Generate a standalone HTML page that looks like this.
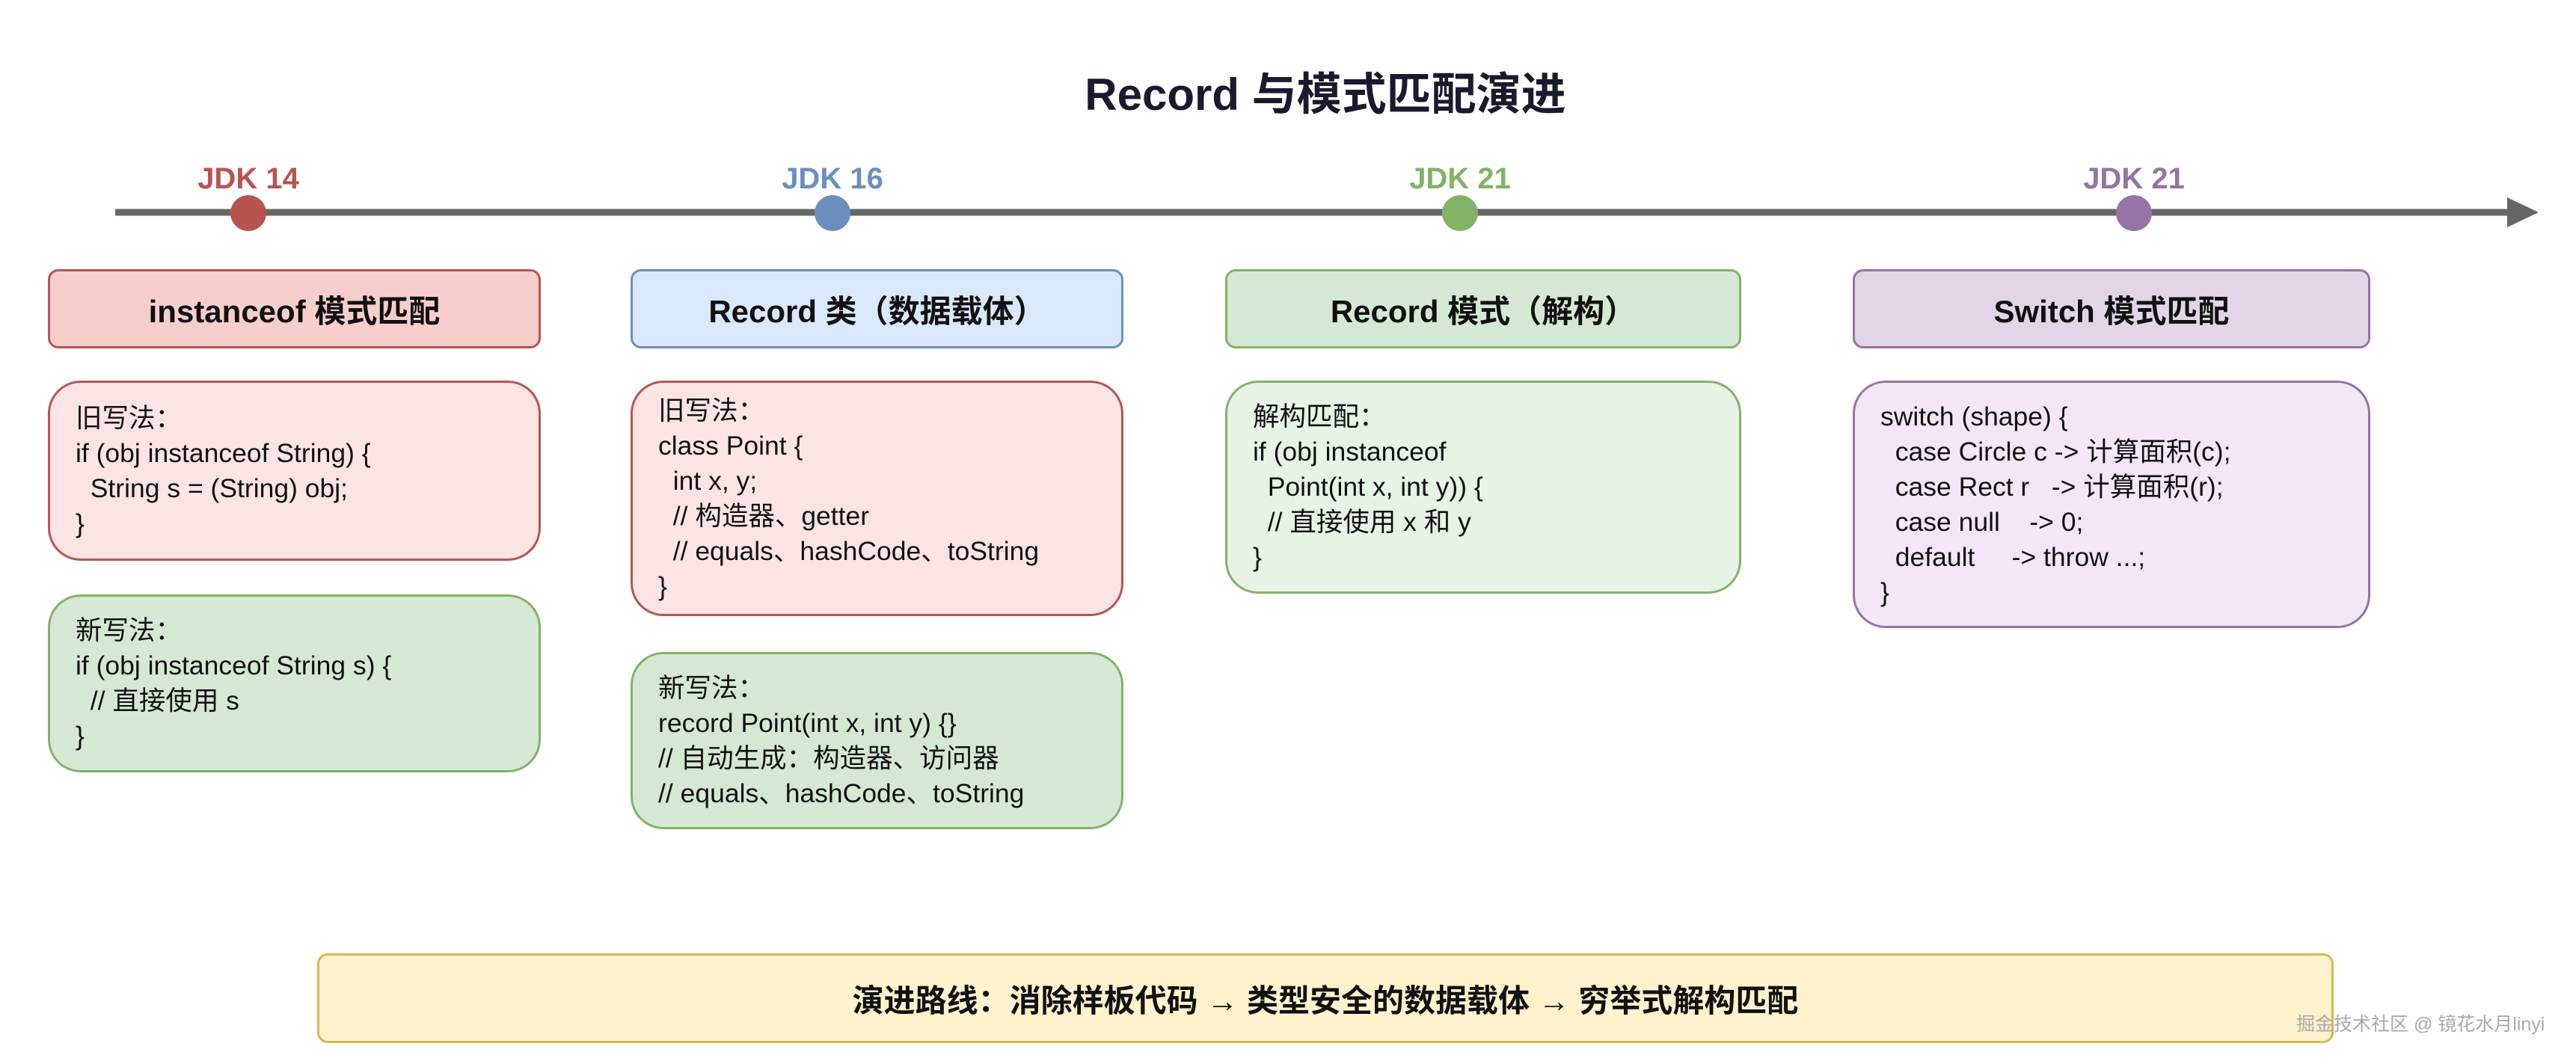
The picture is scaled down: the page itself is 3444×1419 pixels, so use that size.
<!DOCTYPE html>
<html><head><meta charset="utf-8"><style>
*{margin:0;padding:0;box-sizing:border-box}
body{width:3444px;height:1419px;background:#fff;position:relative;overflow:hidden;font-family:"Liberation Sans","Noto Sans CJK SC",sans-serif}
.a{position:absolute}
.t{font-weight:bold;color:#1a1a2e;font-size:60px;width:3444px;text-align:center;top:78px;left:50px}
.lbl{font-weight:bold;font-size:40px;width:300px;text-align:center;top:217px}
.h{border:3px solid;border-radius:14px;display:flex;align-items:center;justify-content:center;font-weight:bold;font-size:42px;color:#111;top:360px;height:106px}
.c{border:3px solid;border-radius:44px;display:flex;flex-direction:column;justify-content:center;padding-left:34px;font-size:35.5px;line-height:47px;color:#111;white-space:pre}
</style></head><body>
<div class="a t">Record 与模式匹配演进</div>
<svg class="a" style="left:0;top:0" width="3444" height="330">
<line x1="154" y1="284" x2="3360" y2="284" stroke="#666" stroke-width="9"/>
<polygon points="3352,264 3394,284 3352,304" fill="#666"/>
<circle cx="332" cy="285" r="24" fill="#b85450"/>
<circle cx="1113" cy="285" r="24" fill="#6c8ebf"/>
<circle cx="1952" cy="285" r="24" fill="#82b366"/>
<circle cx="2853" cy="285" r="24" fill="#9673a6"/>
</svg>
<div class="a lbl" style="left:182px;color:#b85450">JDK 14</div>
<div class="a lbl" style="left:963px;color:#6c8ebf">JDK 16</div>
<div class="a lbl" style="left:1802px;color:#82b366">JDK 21</div>
<div class="a lbl" style="left:2703px;color:#9673a6">JDK 21</div>

<div class="a h" style="left:64px;width:659px;background:#f8cecc;border-color:#b85450">instanceof 模式匹配</div>
<div class="a h" style="left:843px;width:659px;background:#dae8fc;border-color:#6c8ebf">Record 类（数据载体）</div>
<div class="a h" style="left:1638px;width:690px;background:#d5e8d4;border-color:#82b366">Record 模式（解构）</div>
<div class="a h" style="left:2477px;width:692px;background:#e1d5e7;border-color:#9673a6">Switch 模式匹配</div>

<div class="a c" style="left:64px;top:509px;width:659px;height:241px;background:#fde4e4;border-color:#b85450">旧写法：
if (obj instanceof String) {
  String s = (String) obj;
}</div>
<div class="a c" style="left:64px;top:795px;width:659px;height:238px;background:#d5e8d4;border-color:#82b366">新写法：
if (obj instanceof String s) {
  // 直接使用 s
}</div>
<div class="a c" style="left:843px;top:509px;width:659px;height:315px;background:#fde4e4;border-color:#b85450">旧写法：
class Point {
  int x, y;
  // 构造器、getter
  // equals、hashCode、toString
}</div>
<div class="a c" style="left:843px;top:872px;width:659px;height:237px;background:#d5e8d4;border-color:#82b366">新写法：
record Point(int x, int y) {}
// 自动生成：构造器、访问器
// equals、hashCode、toString</div>
<div class="a c" style="left:1638px;top:509px;width:690px;height:285px;background:#e6f3e5;border-color:#82b366">解构匹配：
if (obj instanceof
  Point(int x, int y)) {
  // 直接使用 x 和 y
}</div>
<div class="a c" style="left:2477px;top:509px;width:692px;height:331px;background:#f2e6f7;border-color:#9673a6">switch (shape) {
  case Circle c -> 计算面积(c);
  case Rect r   -> 计算面积(r);
  case null    -> 0;
  default     -> throw ...;
}</div>

<div class="a" style="left:424px;top:1275px;width:2696px;height:120px;background:#fff2cc;border:3px solid #d6b656;border-radius:14px;display:flex;align-items:center;justify-content:center;font-weight:bold;font-size:42px;color:#111">演进路线：消除样板代码 → 类型安全的数据载体 → 穷举式解构匹配</div>
<div class="a" style="left:3070px;top:1350px;font-size:25px;color:#aaa;white-space:nowrap">掘金技术社区 @ 镜花水月linyi</div>
</body></html>
